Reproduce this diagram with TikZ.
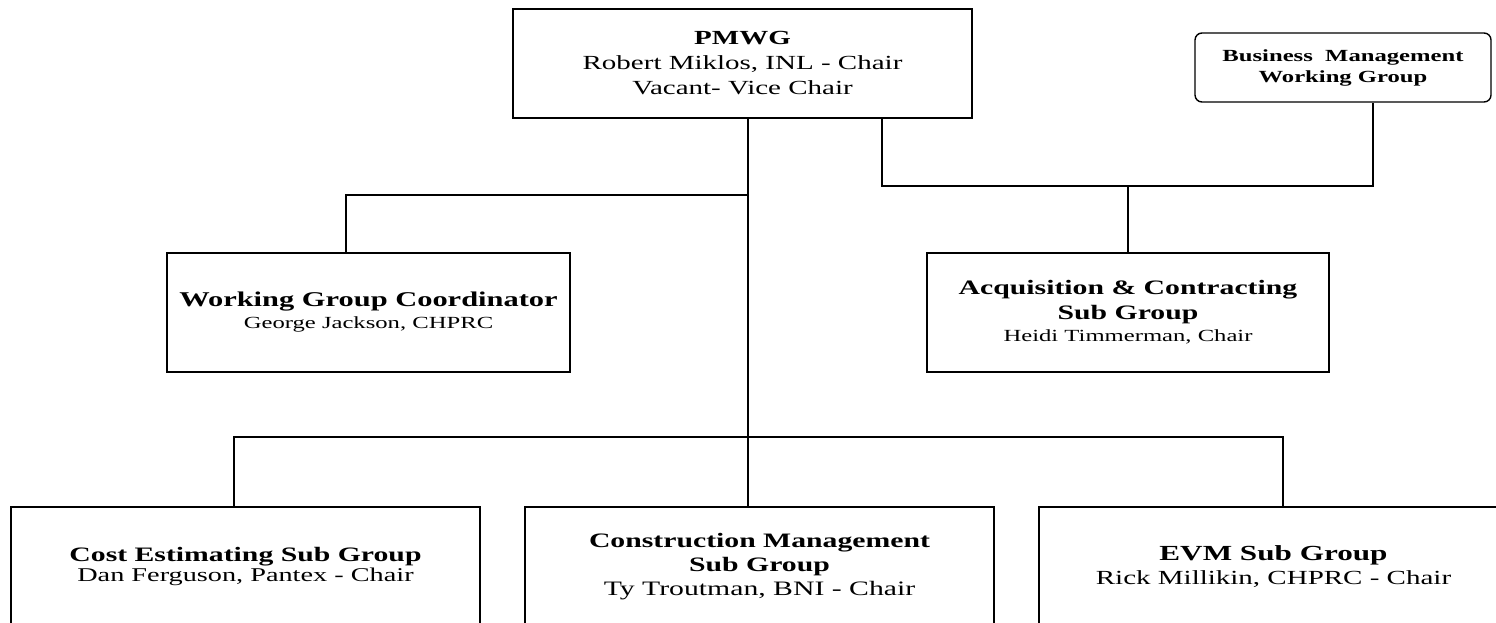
\documentclass[tikz,border=0pt]{standalone}
\usepackage{fontspec}
\setmainfont{Liberation Serif}[FakeStretch=1.45]
\begin{document}
\begin{tikzpicture}[x=1pt,y=-1pt,
  box/.style={draw, line width=1.4pt, inner sep=0pt, align=center, text=black},
  wire/.style={line width=1.4pt},
  ]
\useasboundingbox (0,0) rectangle (1496,622);
\clip (0,0) rectangle (1496,622);

% boxes
\node[box, minimum width=459pt, minimum height=109pt, font=\fontsize{20}{25}\selectfont] (pmwg) at (742.5,63.5)
  {{\bfseries PMWG}\\Robert Miklos, INL - Chair\\Vacant- Vice Chair};
\node[box, rounded corners=7pt, minimum width=296pt, minimum height=69pt, font=\bfseries\fontsize{17}{21}\selectfont] (bmwg) at (1343,67.5)
  {Business\ \ Management\\Working Group};
\node[box, minimum width=403pt, minimum height=119pt, font=\fontsize{17}{22}\selectfont] (wgc) at (368.5,312.5)
  {{\fontsize{21}{22}\selectfont\bfseries Working Group Coordinator}\\George Jackson, CHPRC};
\node[box, minimum width=402pt, minimum height=119pt, font=\fontsize{17}{22}\selectfont] (acq) at (1128,312.5)
  {{\fontsize{20.5}{25}\selectfont\bfseries Acquisition \& Contracting}\\[3pt]{\fontsize{20.5}{25}\selectfont\bfseries Sub Group}\\Heidi Timmerman, Chair};
\node[box, minimum width=469pt, minimum height=119pt, font=\fontsize{19.5}{20}\selectfont] (cost) at (245.5,566.5)
  {{\fontsize{20.5}{20}\selectfont\bfseries Cost Estimating Sub Group}\\Dan Ferguson, Pantex - Chair};
\node[box, minimum width=469pt, minimum height=119pt, font=\fontsize{20.5}{24}\selectfont] (cm) at (759.5,566.5)
  {{\bfseries Construction Management}\\{\bfseries Sub Group}\\Ty Troutman, BNI - Chair};
\node[box, minimum width=469pt, minimum height=119pt, font=\fontsize{20}{24.5}\selectfont] (evm) at (1273.5,566.5)
  {{\fontsize{21.5}{24.5}\selectfont\bfseries EVM Sub Group}\\Rick Millikin, CHPRC - Chair};

% junction coordinates
\coordinate (j1) at (748,195);
\coordinate (j3l) at (882,186);
\coordinate (j3) at (1128,186);
\coordinate (j3r) at (1373,186);
\coordinate (b1) at (234,437);
\coordinate (b3) at (1283,437);

% connectors
\draw[wire] (pmwg.south -| j1) -- (cm.north -| j1);
\draw[wire] (j1) -| (wgc.north -| 346,0);
\draw[wire] (pmwg.south -| j3l) -- (j3l) -- (j3r) -- (bmwg.south -| j3r);
\draw[wire] (j3) -- (acq.north);
\draw[wire] (cost.north -| b1) |- (b3) -- (evm.north -| b3);
\end{tikzpicture}
\end{document}
